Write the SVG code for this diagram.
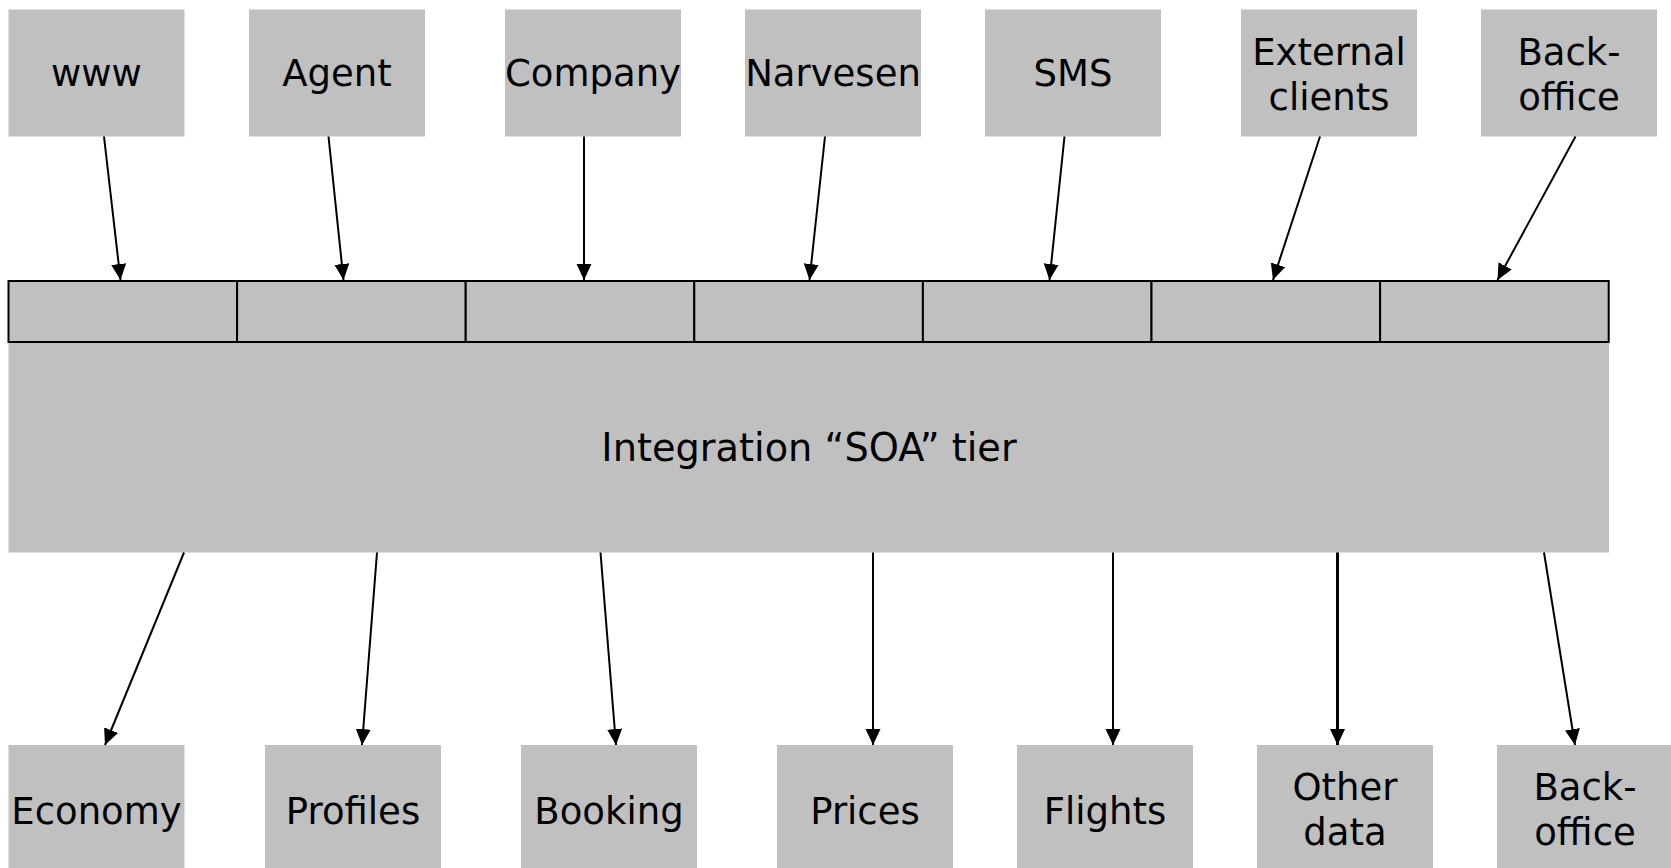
<svg xmlns="http://www.w3.org/2000/svg" width="1671" height="868" viewBox="0 0 1671 868">
<style>
.box{fill:#c0c0c0;}
.cell{fill:#c0c0c0;stroke:#000;stroke-width:2;}
.lbl{font-family:"DejaVu Sans",Verdana,sans-serif;font-size:37px;fill:#000;text-anchor:middle;}
.big{font-size:38.3px;}
.conn{stroke:#000;stroke-width:2;fill:none;marker-end:url(#arr);}
.thick{stroke-width:3;}
</style>
<defs>
<marker id="arr" markerUnits="userSpaceOnUse" markerWidth="17" markerHeight="16" refX="16" refY="7.5" orient="auto">
<path d="M0,0 L16,7.5 L0,15 z" fill="#000"/>
</marker>
</defs>
<rect width="1671" height="868" fill="#fff"/>

<g id="soa">
<rect class="box" x="8.5" y="280" width="1600.5" height="272.5"/>
<rect class="cell" x="8.5" y="281" width="228.6" height="61"/>
<rect class="cell" x="237.1" y="281" width="228.6" height="61"/>
<rect class="cell" x="465.7" y="281" width="228.6" height="61"/>
<rect class="cell" x="694.3" y="281" width="228.6" height="61"/>
<rect class="cell" x="922.9" y="281" width="228.6" height="61"/>
<rect class="cell" x="1151.5" y="281" width="228.6" height="61"/>
<rect class="cell" x="1380.1" y="281" width="228.6" height="61"/>
<text class="lbl big" x="809" y="461">Integration “SOA” tier</text>
</g>

<g id="www"><rect class="box" x="8.5" y="9.5" width="176" height="127"/><text class="lbl" x="96.5" y="86">www</text></g>
<g id="agent"><rect class="box" x="249" y="9.5" width="176" height="127"/><text class="lbl" x="337" y="86">Agent</text></g>
<g id="company"><rect class="box" x="505" y="9.5" width="176" height="127"/><text class="lbl" x="593" y="86">Company</text></g>
<g id="narvesen"><rect class="box" x="745" y="9.5" width="176" height="127"/><text class="lbl" x="833" y="86">Narvesen</text></g>
<g id="sms"><rect class="box" x="985" y="9.5" width="176" height="127"/><text class="lbl" x="1073" y="86">SMS</text></g>
<g id="external"><rect class="box" x="1241" y="9.5" width="176" height="127"/><text class="lbl" x="1329" y="65">External</text><text class="lbl" x="1329" y="110">clients</text></g>
<g id="backoffice-top"><rect class="box" x="1481" y="9.5" width="176" height="127"/><text class="lbl" x="1569" y="65">Back-</text><text class="lbl" x="1569" y="110">office</text></g>

<g id="economy"><rect class="box" x="8.5" y="745" width="176" height="127"/><text class="lbl" x="96.5" y="824">Economy</text></g>
<g id="profiles"><rect class="box" x="265" y="745" width="176" height="127"/><text class="lbl" x="353" y="824">Profiles</text></g>
<g id="booking"><rect class="box" x="521" y="745" width="176" height="127"/><text class="lbl" x="609" y="824">Booking</text></g>
<g id="prices"><rect class="box" x="777" y="745" width="176" height="127"/><text class="lbl" x="865" y="824">Prices</text></g>
<g id="flights"><rect class="box" x="1017" y="745" width="176" height="127"/><text class="lbl" x="1105" y="824">Flights</text></g>
<g id="otherdata"><rect class="box" x="1257" y="745" width="176" height="127"/><text class="lbl" x="1345" y="800">Other</text><text class="lbl" x="1345" y="845">data</text></g>
<g id="backoffice-bottom"><rect class="box" x="1497" y="745" width="176" height="127"/><text class="lbl" x="1585" y="800">Back-</text><text class="lbl" x="1585" y="845">office</text></g>

<g id="connectors">
<line class="conn" x1="104" y1="136.5" x2="120.5" y2="280"/>
<line class="conn" x1="328.5" y1="136.5" x2="343.5" y2="280"/>
<line class="conn" x1="584" y1="136.5" x2="584" y2="280"/>
<line class="conn" x1="825" y1="136.5" x2="809.5" y2="280"/>
<line class="conn" x1="1064.5" y1="136.5" x2="1049.5" y2="280"/>
<line class="conn" x1="1320" y1="136.5" x2="1273" y2="280"/>
<line class="conn" x1="1575.5" y1="136.5" x2="1497.5" y2="280"/>

<line class="conn" x1="184" y1="552.5" x2="105" y2="745"/>
<line class="conn" x1="377" y1="552.5" x2="362" y2="745"/>
<line class="conn" x1="600.5" y1="552.5" x2="616" y2="745"/>
<line class="conn" x1="873" y1="552.5" x2="873" y2="745"/>
<line class="conn" x1="1113" y1="552.5" x2="1113" y2="745"/>
<line class="conn thick" x1="1337.5" y1="552.5" x2="1337.5" y2="745"/>
<line class="conn" x1="1544" y1="552.5" x2="1575" y2="745"/>
</g>
</svg>
